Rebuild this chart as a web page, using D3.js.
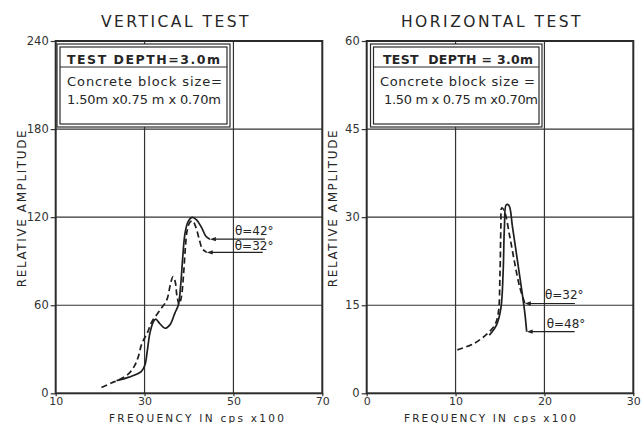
<!DOCTYPE html>
<html lang="en">
<head>
<meta charset="UTF-8">
<title>Vertical and horizontal test</title>
<script src="https://d3js.org/d3.v7.min.js"></script>
<style>
  body {margin: 0; background: #fff;}
  svg text {font-family: "DejaVu Sans", sans-serif; fill: #262626;}
  .frame {fill: none; stroke: #2b2b2b; stroke-width: 2;}
  .grid line {stroke: #333; stroke-width: 1.2;}
  .axis path {display: none;}
  .axis line {stroke: #333; stroke-width: 1.2;}
  .axis text {font-size: 11.5px; fill: #333;}
  .xaxis text {font-size: 11px;}
  .curve {fill: none; stroke: #1e1e1e; stroke-width: 1.7;}
  .dashed {stroke-dasharray: 6 3.5;}
  .box rect {fill: #fff; stroke: #2b2b2b; stroke-width: 1.2;}
  .note line {stroke: #222; stroke-width: 1.1;}
</style>
</head>
<body onload="init()">
<svg width="644" height="423"></svg>
<script>
// vertical test (freq in cps x100, relative amplitude)
const vXTicks = [10, 30, 50, 70];
const vYTicks = [0, 60, 120, 180, 240];
const vSolid = [[23.7,8.6],[26.5,11],[29.3,15],[30.1,19.5],[30.6,28.5],[31.2,41],[32.0,48.8],[32.5,50.5],
  [33.5,47.2],[34.6,44.3],[35.7,46.6],[36.8,54.5],[37.6,60.2],[38.1,72.7],[38.6,93],[39.1,109],
  [39.8,117],[40.7,119.8],[41.7,118.2],[42.9,112.5],[43.8,107],[44.7,105]];          // theta = 42
const vDashed = [[20.3,4],[22.5,7],[24.5,9.5],[26.5,13.5],[27.8,19],[28.6,25],[29.4,34],[30.6,41],
  [31.6,48.5],[33.5,56.8],[35.0,63.6],[35.8,74],[36.4,79.5],[36.9,76],[37.3,66],[37.8,60.5],
  [38.3,66],[38.8,82],[39.2,100],[39.6,111],[40.2,116.5],[40.8,117.5],[41.5,113.5],[42.3,105],
  [43.0,98.5],[44.0,96]];                                                               // theta = 32
const vInfo = ["TEST DEPTH=3.0m", "Concrete block size=", "1.50m x0.75 m x 0.70m"];

// horizontal test
const hXTicks = [0, 10, 20, 30];
const hYTicks = [0, 15, 30, 45, 60];
const hSolid = [[13.8,9.9],[14.6,11.6],[15.1,14.5],[15.35,20.5],[15.5,28.4],[15.7,32.1],[16.0,32],
  [16.4,28.4],[17.0,22.2],[17.5,17],[17.8,13.6],[18.0,10.5]];                           // theta = 48
const hDashed = [[10.2,7.4],[12.1,8.5],[13.6,10.2],[14.4,11.6],[14.8,13.6],[15.0,20.5],[15.1,28.4],
  [15.2,31.6],[15.5,31],[16.1,26.7],[16.65,22.2],[17.2,18.2],[17.8,15.3]];             // theta = 32
const hInfo = ["TEST  DEPTH = 3.0m", "Concrete block size =", "1.50 m x 0.75 m x0.70m"];

function init() {
  var svg = d3.select("svg");

  panel(svg, {
    left: 55.7, right: 322.3, title: "VERTICAL TEST", titleX: 176, xTitle: [109, 284],
    xTicks: vXTicks, yTicks: vYTicks, info: vInfo,
    curves: [
      {data: vSolid, dashed: false, label: "θ=42°", dx: 25, len: 55, dy: -4},
      {data: vDashed, dashed: true, label: "θ=32°", dx: 28, len: 56, dy: -2}
    ],
    box: [57, 230], text: [[67, 220], [67, 222], [67, 221]]
  });

  panel(svg, {
    left: 366.7, right: 633.3, title: "HORIZONTAL TEST", titleX: 492, xTitle: [404, 576],
    xTicks: hXTicks, yTicks: hYTicks, info: hInfo,
    curves: [
      {data: hDashed, dashed: true, label: "θ=32°", dx: 20, len: 50, dy: -4},
      {data: hSolid, dashed: false, label: "θ=48°", dx: 20, len: 48, dy: -4}
    ],
    box: [370.5, 542], text: [[383, 533], [380, 535], [384, 538]]
  });
}

function panel(svg, p) {
  var top = 41, bottom = 393.3;
  var x = d3.scaleLinear().domain(d3.extent(p.xTicks)).range([p.left, p.right]);
  var y = d3.scaleLinear().domain(d3.extent(p.yTicks)).range([bottom, top]);
  var g = svg.append("g");

  // grid
  var grid = g.append("g").attr("class", "grid");
  grid.selectAll(".gx").data(p.xTicks.slice(1, -1)).enter().append("line")
    .attr("x1", d => x(d)).attr("x2", d => x(d)).attr("y1", top).attr("y2", bottom);
  grid.selectAll(".gy").data(p.yTicks.slice(1, -1)).enter().append("line")
    .attr("y1", d => y(d)).attr("y2", d => y(d)).attr("x1", p.left).attr("x2", p.right);

  g.append("g").attr("class", "axis").attr("transform", "translate(" + p.left + ",0)")
    .call(d3.axisLeft(y).tickValues(p.yTicks).tickSize(5).tickPadding(2));
  g.append("g").attr("class", "axis xaxis").attr("transform", "translate(0," + bottom + ")")
    .call(d3.axisBottom(x).tickValues(p.xTicks).tickSize(3).tickPadding(1));

  g.append("rect").attr("class", "frame")
    .attr("x", p.left).attr("y", top).attr("width", p.right - p.left).attr("height", bottom - top);

  // info box
  var box = g.append("g").attr("class", "box");
  box.append("rect").attr("x", p.box[0]).attr("y", 44).attr("width", p.box[1] - p.box[0]).attr("height", 83);
  box.append("rect").attr("x", p.box[0] + 3).attr("y", 47).attr("width", p.box[1] - p.box[0] - 6).attr("height", 77);
  box.append("line").attr("x1", p.box[0] + 3).attr("x2", p.box[1] - 3).attr("y1", 67).attr("y2", 67)
    .style("stroke", "#2b2b2b").style("stroke-width", 1.2);
  box.selectAll("text").data(p.info).enter().append("text")
    .attr("x", (d, i) => p.text[i][0]).attr("y", (d, i) => [64, 86, 104][i])
    .attr("textLength", (d, i) => p.text[i][1] - p.text[i][0]).attr("lengthAdjust", "spacing")
    .style("white-space", "pre")
    .style("font-size", (d, i) => i == 0 ? "12.5px" : "13px")
    .style("font-weight", (d, i) => i == 0 ? "bold" : "normal")
    .text(d => d);

  // curves
  var line = d3.line().x(d => x(d[0])).y(d => y(d[1])).curve(d3.curveCatmullRom.alpha(0.5));
  p.curves.forEach(function(c) {
    g.append("path").attr("class", c.dashed ? "curve dashed" : "curve").attr("d", line(c.data));
    var end = c.data[c.data.length - 1];
    var tx = x(end[0]), ty = y(end[1]);
    var note = g.append("g").attr("class", "note");
    note.append("line").attr("x1", tx + 4).attr("x2", tx + c.len).attr("y1", ty).attr("y2", ty);
    note.append("path").attr("d", "M" + tx + "," + ty + "l6,-2.2l0,4.4z").style("fill", "#222");
    note.append("text").attr("x", tx + c.dx).attr("y", ty + c.dy).style("font-size", "12px").text(c.label);
  });

  // titles
  svg.append("text").attr("x", p.titleX).attr("y", 27).attr("text-anchor", "middle")
    .style("font-size", "15.5px").style("letter-spacing", "2.5px").text(p.title);
  svg.append("text").attr("x", p.xTitle[0]).attr("y", 421.5)
    .attr("textLength", p.xTitle[1] - p.xTitle[0]).attr("lengthAdjust", "spacing")
    .style("font-size", "10.5px").text("FREQUENCY IN cps x100");
  svg.append("text").attr("transform", "translate(" + (p.left - 30) + ",208) rotate(-90)")
    .attr("text-anchor", "middle").style("font-size", "12px").style("letter-spacing", "1.6px")
    .text("RELATIVE AMPLITUDE");
}
</script>
</body>
</html>
